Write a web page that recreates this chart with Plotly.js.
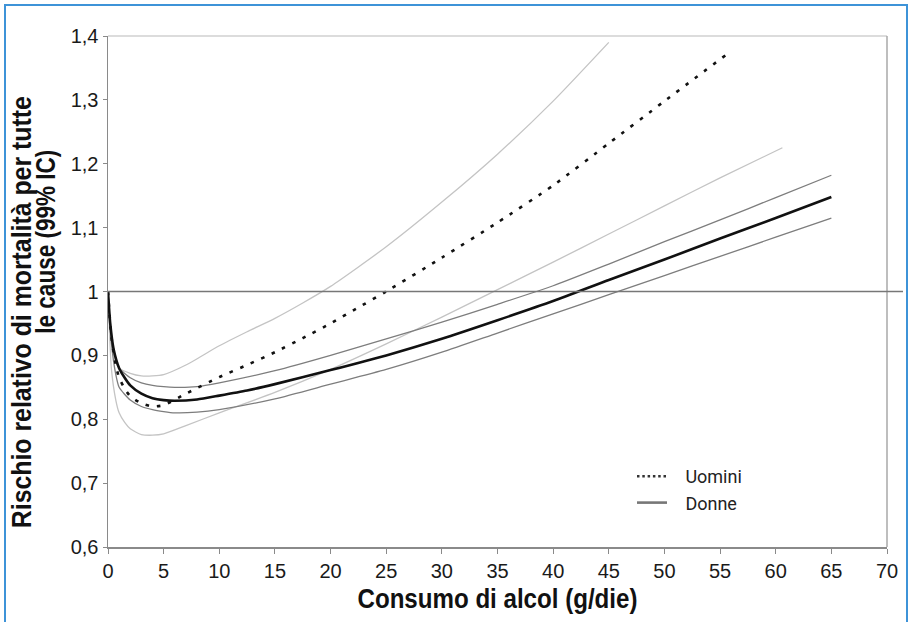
<!DOCTYPE html>
<html>
<head>
<meta charset="utf-8">
<script src="https://cdn.plot.ly/plotly-3.0.1.min.js"></script>
<style>
  html, body { margin: 0; padding: 0; background: #fff; }
  #wrap { position: relative; width: 909px; height: 622px; overflow: hidden; }
  #chart { width: 909px; height: 622px; }
  #frame { position: absolute; left: 4px; top: 4px; width: 900px; height: 650px;
           border: 2px solid #3d93d8; pointer-events: none; }
</style>
</head>
<body>
<div id="wrap"><div id="chart"></div><div id="frame"></div></div>
<script>
// ---- data ----
const menX      = [0, 0.3, 0.7, 1, 1.5, 2, 3, 4, 5, 7, 10, 12.5, 15, 17.5, 20, 22.5, 25, 30, 35, 40, 45, 50, 55.5];
const menRR     = [1.0, 0.93, 0.885, 0.865, 0.848, 0.836, 0.825, 0.82, 0.822, 0.84, 0.866, 0.885, 0.905, 0.927, 0.95, 0.975, 1.0, 1.053, 1.108, 1.166, 1.232, 1.298, 1.37];

const menUpX    = [0, 0.3, 0.7, 1, 2, 3, 4, 5, 7, 10, 12.5, 15, 17.5, 20, 25, 30, 35, 40, 45];
const menUp     = [1.0, 0.92, 0.89, 0.88, 0.872, 0.868, 0.868, 0.87, 0.885, 0.915, 0.937, 0.958, 0.982, 1.008, 1.07, 1.14, 1.215, 1.298, 1.39];

const menLoX    = [0, 0.3, 0.7, 1, 1.5, 2, 3, 4, 5, 7, 10, 15, 20, 25, 30, 35, 40, 45, 50, 55, 60.6];
const menLo     = [1.0, 0.88, 0.83, 0.81, 0.795, 0.785, 0.776, 0.775, 0.777, 0.79, 0.81, 0.842, 0.878, 0.918, 0.96, 1.003, 1.046, 1.09, 1.134, 1.178, 1.225];

const womX      = [0, 0.2, 0.5, 1, 1.5, 2, 3, 4, 5, 6, 8, 10, 12.5, 15, 20, 25, 30, 35, 40, 45, 50, 55, 60, 65];
const womRR     = [1.0, 0.95, 0.91, 0.88, 0.865, 0.853, 0.84, 0.833, 0.83, 0.829, 0.831, 0.837, 0.845, 0.855, 0.877, 0.9, 0.926, 0.955, 0.985, 1.018, 1.05, 1.083, 1.115, 1.148];

const womUpX    = [0, 0.3, 0.7, 1, 2, 3, 4, 5, 6, 8, 10, 15, 20, 25, 30, 35, 40, 45, 50, 55, 60, 65];
const womUp     = [1.0, 0.93, 0.895, 0.88, 0.865, 0.857, 0.853, 0.851, 0.85, 0.851, 0.857, 0.876, 0.9, 0.926, 0.952, 0.98, 1.009, 1.043, 1.078, 1.112, 1.147, 1.182];

const womLoX    = [0, 0.3, 0.7, 1, 2, 3, 4, 5, 6, 8, 10, 15, 20, 25, 30, 35, 40, 45, 50, 55, 60, 65];
const womLo     = [1.0, 0.92, 0.87, 0.85, 0.83, 0.82, 0.815, 0.812, 0.81, 0.811, 0.815, 0.832, 0.855, 0.878, 0.905, 0.935, 0.965, 0.995, 1.025, 1.055, 1.085, 1.115];

const xTickVals  = [0, 5, 10, 15, 20, 25, 30, 35, 40, 45, 50, 55, 60, 65, 70];
const xTickText  = ['0','5','10','15','20','25','30','35','40','45','50','55','60','65','70'];
const yTickVals  = [0.6, 0.7, 0.8, 0.9, 1.0, 1.1, 1.2, 1.3, 1.4];
const yTickText  = ['0,6','0,7','0,8','0,9','1','1,1','1,2','1,3','1,4'];
const refLineY   = 1.0;

const legendNames = ['Uomini', 'Donne'];
const xTitle  = 'Consumo di alcol (g/die)';
const yTitle1 = 'Rischio relativo di mortalità per tutte';
const yTitle2 = 'le cause (99% IC)';

// ---- styles ----
const titleFamily = '"Liberation Sans", Arial, sans-serif';
const tickFont = '"Liberation Sans", Arial, sans-serif';
const legendPad = '\u00a0\u00a0\u00a0';

const M = {l: 108, r: 22, t: 36, b: 75};
const plotW = 909 - M.l - M.r;
const plotH = 622 - M.t - M.b;
const py = p => (622 - M.b - p) / plotH;   // pixel row -> paper y

const spline = {shape: 'spline', smoothing: 0.6};
const traces = [
  {x: menUpX, y: menUp, mode: 'lines', line: Object.assign({color: '#c4c4c4', width: 1.3}, spline), showlegend: false},
  {x: menLoX, y: menLo, mode: 'lines', line: Object.assign({color: '#c4c4c4', width: 1.3}, spline), showlegend: false},
  {x: womLoX, y: womLo, mode: 'lines', line: Object.assign({color: '#7d7d7d', width: 1.3}, spline), showlegend: false},
  {x: womUpX, y: womUp, mode: 'lines', line: Object.assign({color: '#7d7d7d', width: 1.3}, spline), showlegend: false},
  {x: menX, y: menRR, mode: 'lines', line: Object.assign({color: '#111', width: 2.6, dash: '3.5px,8px'}, spline), showlegend: false},
  {x: womX, y: womRR, mode: 'lines', line: Object.assign({color: '#111', width: 2.6}, spline), showlegend: false},
  // legend entries only (no data)
  {x: [null], y: [null], mode: 'lines', name: legendPad + legendNames[0], legendgroup: 'u', line: {color: '#333', width: 2.6, dash: '2.5px,2.8px'}},
  {x: [null], y: [null], mode: 'lines', name: legendPad + legendNames[1], legendgroup: 'd', line: {color: '#777', width: 2.6}}
];

const layout = {
  width: 909, height: 622,
  margin: M,
  paper_bgcolor: '#fff', plot_bgcolor: '#fff',
  showlegend: true,
  hovermode: false,
  legend: {x: (632 - M.l) / plotW, y: py(458), xanchor: 'left', yanchor: 'top', bgcolor: 'rgba(0,0,0,0)',
           itemwidth: 30, font: {family: 'Roboto, "Liberation Sans", sans-serif', size: 18, color: '#222'},
           traceorder: 'normal', tracegroupgap: 3},
  xaxis: {range: [0, 70], tickvals: xTickVals, ticktext: xTickText, showgrid: false, zeroline: false,
          showline: true, linecolor: '#8a8a8a', linewidth: 1.5, ticks: 'outside', ticklen: 5, tickcolor: '#8a8a8a',
          tickfont: {family: tickFont, size: 20, color: '#1a1a1a'},
          title: {text: xTitle, font: {family: titleFamily, size: 27, weight: 'bold', color: '#111'}, standoff: 8}},
  yaxis: {range: [0.6, 1.4], tickvals: yTickVals, ticktext: yTickText, showgrid: false, zeroline: false,
          showline: true, linecolor: '#8a8a8a', linewidth: 1.5, ticks: 'outside', ticklen: 4, tickcolor: '#8a8a8a',
          tickfont: {family: tickFont, size: 20, color: '#1a1a1a'}},
  shapes: [
    {type: 'line', xref: 'paper', yref: 'paper', x0: 0, x1: 1, y0: 1, y1: 1, line: {color: '#d0d0d0', width: 1.5}},
    {type: 'line', xref: 'paper', yref: 'paper', x0: 1, x1: 1, y0: 0, y1: 1, line: {color: '#a8a8a8', width: 1.5}},
    {type: 'line', xref: 'paper', yref: 'y', x0: 0, x1: (903 - M.l) / plotW, y0: refLineY, y1: refLineY, line: {color: '#777', width: 1.5}}
  ],
  annotations: [
    {xref: 'paper', yref: 'paper', x: (22 - M.l) / plotW, y: py(312), text: yTitle1, textangle: -90,
     showarrow: false, xanchor: 'center', yanchor: 'middle', font: {family: titleFamily, size: 27, weight: 'bold', color: '#111'}},
    {xref: 'paper', yref: 'paper', x: (46 - M.l) / plotW, y: py(242), text: yTitle2, textangle: -90,
     showarrow: false, xanchor: 'center', yanchor: 'middle', font: {family: titleFamily, size: 27, weight: 'bold', color: '#111'}}
  ]
};

// target lengths that give the narrow bold look of the original lettering
const titleLengths = {x: 280, y1: 432, y2: 184};

Plotly.newPlot('chart', traces, layout, {staticPlot: true, displayModeBar: false}).then(gd => {
  const squeeze = (el, len) => {
    if (!el) return;
    el.setAttribute('textLength', len);
    el.setAttribute('lengthAdjust', 'spacingAndGlyphs');
  };
  squeeze(gd.querySelector('.xtitle'), titleLengths.x);
  const ann = gd.querySelectorAll('.annotation-text');
  squeeze(ann[0], titleLengths.y1);
  squeeze(ann[1], titleLengths.y2);
});
</script>
</body>
</html>
